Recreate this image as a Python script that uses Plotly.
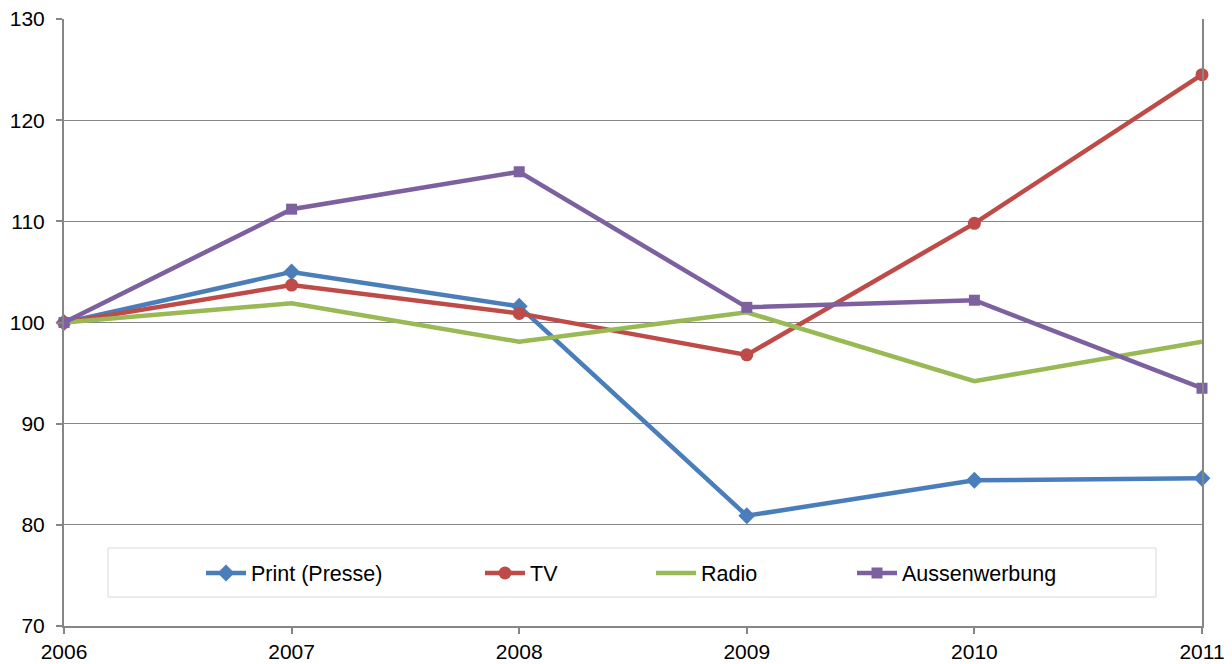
import plotly.graph_objects as go

years = [2006, 2007, 2008, 2009, 2010, 2011]
print_presse = [100, 105.0, 101.6, 80.9, 84.4, 84.6]
tv = [100, 103.7, 100.9, 96.8, 109.8, 124.5]
radio = [100, 101.9, 98.1, 101.0, 94.2, 98.1]
aussenwerbung = [100, 111.2, 114.9, 101.5, 102.2, 93.5]

series = [
    ("Print (Presse)", print_presse, "#4A7EBB", "diamond", 13, "legend"),
    ("TV", tv, "#BE4B48", "circle", 13, "legend2"),
    ("Radio", radio, "#98B954", None, 0, "legend3"),
    ("Aussenwerbung", aussenwerbung, "#7D60A0", "square", 11, "legend4"),
]

# plot area in pixels
L, R, T, B = 64, 1202, 19, 626
W, H = 1232, 664
FONT = "Liberation Sans, Arial, sans-serif"


def px_x(px):
    return (px - L) / (R - L)


def px_y(py):
    return (B - py) / (B - T)


fig = go.Figure()
for name, vals, color, sym, size, leg in series:
    fig.add_trace(go.Scatter(
        x=years, y=vals, name=name,
        mode="lines+markers" if sym else "lines",
        line=dict(color=color, width=4.5),
        marker=dict(symbol=sym or "circle", size=size, color=color),
        legend=leg, cliponaxis=False, showlegend=True,
    ))

# legend entry positions (left edge of each entry)
legend_x = [201, 480, 651, 852]
legend_common = dict(
    orientation="h", xanchor="left", yanchor="middle", y=px_y(573),
    bgcolor="rgba(0,0,0,0)", borderwidth=0,
    font=dict(family=FONT, size=21.5, color="#000000"),
    itemwidth=40,
)
fig.update_layout(
    showlegend=True,
    legend=dict(x=px_x(legend_x[0]), **legend_common),
    legend2=dict(x=px_x(legend_x[1]), **legend_common),
    legend3=dict(x=px_x(legend_x[2]), **legend_common),
    legend4=dict(x=px_x(legend_x[3]), **legend_common),
)

# legend frame
fig.add_shape(type="rect", xref="paper", yref="paper",
              x0=px_x(108), x1=px_x(1156), y0=px_y(597), y1=px_y(548),
              line=dict(color="#D9D9D9", width=1), fillcolor="white", layer="below")

fig.update_layout(
    width=W, height=H,
    margin=dict(l=L, r=W - R, t=T, b=H - B, pad=0, autoexpand=False),
    paper_bgcolor="white", plot_bgcolor="white",
    font=dict(family=FONT, size=21, color="#000000"),
    xaxis=dict(
        range=[2006, 2011], tickvals=years, ticktext=[str(y) for y in years],
        showgrid=False, zeroline=False, automargin=False,
        showline=True, linecolor="#868686", linewidth=2,
        ticks="outside", ticklen=6, tickcolor="#868686", tickwidth=1.5,
        tickfont=dict(size=21),
    ),
    yaxis=dict(
        range=[70, 130], dtick=10, tick0=70, automargin=False,
        showgrid=True, gridcolor="#868686", gridwidth=1,
        zeroline=False,
        showline=True, linecolor="#868686", linewidth=2, mirror=True,
        ticks="outside", ticklen=6, tickcolor="#868686", tickwidth=1.5,
        tickfont=dict(size=21), ticklabelstandoff=7,
    ),
)

fig.write_html("out.html")
